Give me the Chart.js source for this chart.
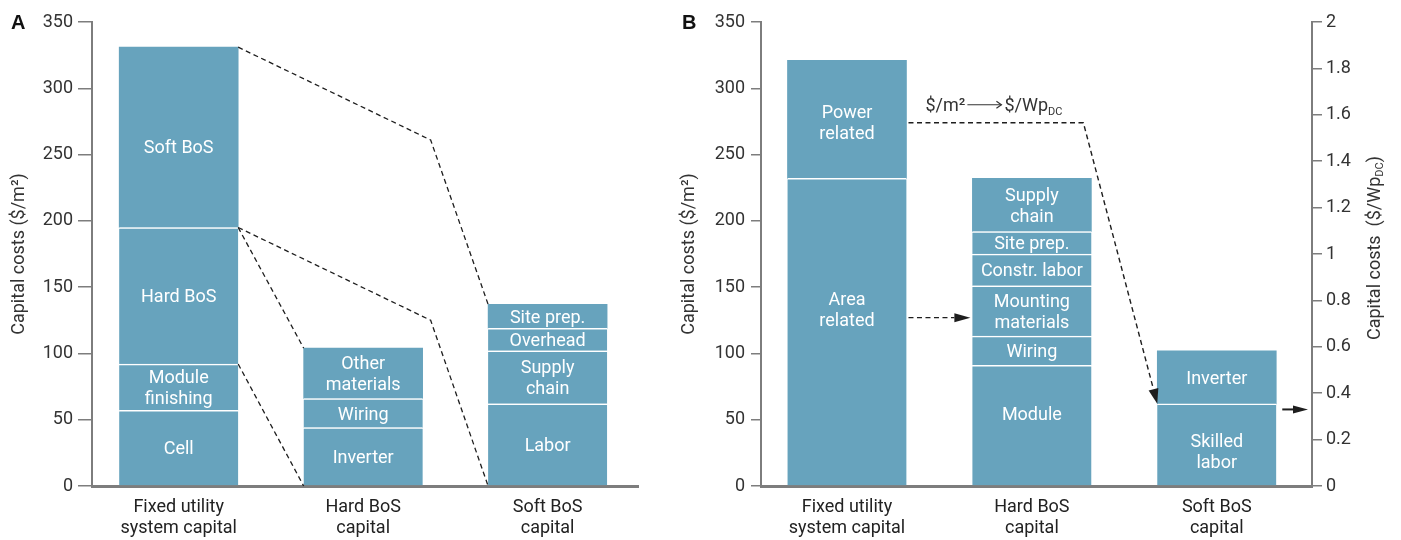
<!DOCTYPE html>
<html>
<head>
<meta charset="utf-8">
<title>Capital costs of fixed utility PV systems</title>
<script src="https://cdn.jsdelivr.net/npm/chart.js@4.4.1/dist/chart.umd.min.js"></script>
<style>
  html, body { margin: 0; padding: 0; background: #ffffff; }
  #wrap { position: relative; width: 1401px; height: 540px; overflow: hidden; }
  .panel { position: absolute; top: 0; height: 540px; }
  #pa { left: 0; width: 680px; }
  #pb { left: 676px; width: 725px; }
  canvas { display: block; }
</style>
</head>
<body>
<div id="wrap">
  <div class="panel" id="pa"><canvas id="ca" width="680" height="540"></canvas></div>
  <div class="panel" id="pb"><canvas id="cb" width="725" height="540"></canvas></div>
</div>
<script>
// ---- data -------------------------------------------------------------
const categories = [['Fixed utility', 'system capital'], ['Hard BoS', 'capital'], ['Soft BoS', 'capital']];
const areaTicks = [0, 50, 100, 150, 200, 250, 300, 350];          // $/m2
const powerTicks = [0, 0.2, 0.4, 0.6, 0.8, 1, 1.2, 1.4, 1.6, 1.8, 2]; // $/Wp(DC)

// Panel A (segments listed bottom to top)
const fixedSegmentsA = ['Cell', 'Module\nfinishing', 'Hard BoS', 'Soft BoS'];
const fixedValuesA   = [57, 35, 103, 136];
const hardSegmentsA  = ['Inverter', 'Wiring', 'Other\nmaterials'];
const hardValuesA    = [44, 22, 38];
const softSegmentsA  = ['Labor', 'Supply\nchain', 'Overhead', 'Site prep.'];
const softValuesA    = [62, 40, 17, 18];

// Panel B (segments listed bottom to top)
const fixedSegmentsB = ['Area\nrelated', 'Power\nrelated'];
const fixedValuesB   = [232, 89];
const hardSegmentsB  = ['Module', 'Wiring', 'Mounting\nmaterials', 'Constr. labor', 'Site prep.', 'Supply\nchain'];
const hardValuesB    = [91, 22, 38, 24, 17, 40];
const softSegmentsB  = ['Skilled\nlabor', 'Inverter'];
const softValuesB    = [62, 40];

// ---- styling ----------------------------------------------------------
const BAR_COLOR = '#67a3bd';
const FONT = 'Roboto, "Liberation Sans", sans-serif';
const INK = '#333333';
const AXIS = '#7d7d7d';
const LINE = '#1e1e1e';
const TEXT_SIZE = 18;

// one dataset per stacked segment; bar index becomes the x value
function stackDatasets(bars) {
  const sets = [];
  bars.forEach((bar, i) => {
    bar.values.forEach((v, k) => {
      const isTop = k === bar.values.length - 1;
      sets.push({
        label: bar.names[k],
        data: [{ x: i, y: v }],
        stack: 'capital',
        backgroundColor: BAR_COLOR,
        borderColor: '#ffffff',
        borderWidth: isTop ? 0 : { top: 1.5, left: 0, right: 0, bottom: 0 },
        borderSkipped: 'start',
        barThickness: 119,
        yAxisID: 'y'
      });
    });
  });
  return sets;
}

function categoryAxis(min, max) {
  return {
    type: 'linear', min: min, max: max, bounds: 'data', offset: false,
    afterBuildTicks: s => { s.ticks = categories.map((_, i) => ({ value: i })); },
    afterFit: s => { s.height = 54; },
    ticks: {
      autoSkip: false, maxRotation: 0, minRotation: 0, padding: 11, color: '#222222',
      font: { family: FONT, size: TEXT_SIZE, lineHeight: 21 / TEXT_SIZE },
      callback: v => categories[v]
    },
    grid: { display: false, drawTicks: false, offset: false },
    border: { display: true, color: AXIS, width: 3 }
  };
}

function areaAxis(width, tickLen, pad, titlePad) {
  return {
    type: 'linear', position: 'left', min: 0, max: 350, bounds: 'data', stacked: true,
    afterBuildTicks: s => { s.ticks = areaTicks.map(v => ({ value: v })); },
    afterFit: s => { s.width = width; },
    ticks: { padding: pad, color: INK, font: { family: FONT, size: TEXT_SIZE } },
    grid: { drawOnChartArea: false, drawTicks: true, tickLength: tickLen, color: AXIS, lineWidth: 1.5 },
    border: { display: true, color: AXIS, width: 2 },
    title: {
      display: true, text: 'Capital costs ($/m²)', color: INK,
      font: { family: FONT, size: TEXT_SIZE, lineHeight: 1.2 },
      padding: { top: titlePad, bottom: 0 }
    }
  };
}

// white labels centred in each segment
const segmentLabels = {
  id: 'segmentLabels',
  afterDatasetsDraw(chart, args, opts) {
    const ctx = chart.ctx;
    const shift = (opts && opts.shift) || {};
    ctx.save();
    ctx.fillStyle = '#ffffff';
    ctx.font = TEXT_SIZE + 'px ' + FONT;
    ctx.textAlign = 'center';
    ctx.textBaseline = 'middle';
    chart.data.datasets.forEach((ds, di) => {
      const el = chart.getDatasetMeta(di).data[0];
      if (!el) return;
      const lines = ds.label.split('\n');
      const lh = 21;
      const cy = (el.y + el.base) / 2 + 2 + (shift[ds.label] || 0);
      const y0 = cy - (lines.length - 1) * lh / 2;
      lines.forEach((t, j) => ctx.fillText(t, el.x, y0 + j * lh));
    });
    ctx.restore();
  }
};

function panelLetter(letter, x) {
  return {
    id: 'panelLetter' + letter,
    afterDraw(chart) {
      const ctx = chart.ctx;
      ctx.save();
      ctx.fillStyle = '#111111';
      ctx.font = 'bold 20px "Liberation Sans", Arial, sans-serif';
      ctx.textAlign = 'left';
      ctx.textBaseline = 'alphabetic';
      ctx.fillText(letter, x, 29);
      ctx.restore();
    }
  };
}

// left/right edges of each bar, by bar index
function barFrames(chart) {
  const frames = [];
  chart.data.datasets.forEach((ds, di) => {
    const el = chart.getDatasetMeta(di).data[0];
    const i = ds.data[0].x;
    frames[i] = { left: el.x - el.width / 2, right: el.x + el.width / 2 };
  });
  return frames;
}

function strokePath(ctx, pts, dash) {
  ctx.setLineDash(dash || []);
  ctx.beginPath();
  ctx.moveTo(pts[0].x, pts[0].y);
  for (let i = 1; i < pts.length; i++) ctx.lineTo(pts[i].x, pts[i].y);
  ctx.stroke();
  ctx.setLineDash([]);
}

// draws a path whose last point carries a filled arrowhead
function arrowPath(ctx, pts, dash, len, half) {
  const tip = pts[pts.length - 1];
  const from = pts[pts.length - 2];
  const a = Math.atan2(tip.y - from.y, tip.x - from.x);
  const base = { x: tip.x - len * Math.cos(a), y: tip.y - len * Math.sin(a) };
  strokePath(ctx, pts.slice(0, -1).concat([base]), dash);
  ctx.beginPath();
  ctx.moveTo(tip.x, tip.y);
  ctx.lineTo(base.x + half * Math.sin(a), base.y - half * Math.cos(a));
  ctx.lineTo(base.x - half * Math.sin(a), base.y + half * Math.cos(a));
  ctx.closePath();
  ctx.fill();
}

function cumulative(values) {
  let s = 0;
  return values.map(v => (s += v));
}
function total(values) { return values.reduce((a, b) => a + b, 0); }

// dashed leaders: hard and soft BoS blocks of the first bar fan out to their breakdown bars
const bosConnectors = {
  id: 'bosConnectors',
  afterDatasetsDraw(chart) {
    const { ctx, scales: { y } } = chart;
    const f = barFrames(chart);
    const cum = cumulative(fixedValuesA);
    const hardLo = cum[1], hardHi = cum[2], softLo = cum[2], softHi = cum[3];
    const elbowDrop = 70;          // leaders to the third bar bend past the second bar
    const elbowX = f[1].right + 8;
    const P = (x, v) => ({ x: x, y: y.getPixelForValue(v) });
    ctx.save();
    ctx.strokeStyle = LINE;
    ctx.lineWidth = 1.3;
    const dash = [5, 3.5];
    strokePath(ctx, [P(f[0].right, hardHi), P(f[1].left, total(hardValuesA))], dash);
    strokePath(ctx, [P(f[0].right, hardLo), P(f[1].left, 0)], dash);
    strokePath(ctx, [P(f[0].right, softHi), P(elbowX, softHi - elbowDrop), P(f[2].left, total(softValuesA))], dash);
    strokePath(ctx, [P(f[0].right, softLo), P(elbowX, softLo - elbowDrop), P(f[2].left, 0)], dash);
    ctx.restore();
  }
};

// conversion arrows between area-based and power-based costs
const conversionArrows = {
  id: 'conversionArrows',
  afterDatasetsDraw(chart) {
    const { ctx, scales: { y, y2 }, chartArea } = chart;
    const f = barFrames(chart);
    const powerLevel = 274, areaLevel = 127, perWattLevel = 0.33;
    ctx.save();
    ctx.strokeStyle = LINE;
    ctx.fillStyle = LINE;
    ctx.lineWidth = 1.4;
    const dash = [5, 3.5];

    const yPow = y.getPixelForValue(powerLevel);
    arrowPath(ctx, [
      { x: f[0].right + 2, y: yPow },
      { x: f[1].right - 8, y: yPow },
      { x: f[2].left, y: y.getPixelForValue(softValuesB[0]) }
    ], dash, 15, 5);

    const yArea = y.getPixelForValue(areaLevel);
    arrowPath(ctx, [{ x: f[0].right + 2, y: yArea }, { x: f[1].left - 2, y: yArea }], dash, 16, 4.5);

    ctx.lineWidth = 2;
    const yOut = y2.getPixelForValue(perWattLevel);
    arrowPath(ctx, [{ x: f[2].right + 6, y: yOut }, { x: chartArea.right - 4, y: yOut }], null, 15, 4);

    // unit conversion caption above the upper arrow
    let x = f[0].right + 19;
    const base = yPow - 12;
    ctx.fillStyle = INK;
    ctx.strokeStyle = INK;
    ctx.textAlign = 'left';
    ctx.textBaseline = 'alphabetic';
    ctx.font = TEXT_SIZE + 'px ' + FONT;
    ctx.fillText('$/m²', x, base);
    x += ctx.measureText('$/m²').width + 2;
    const ay = base - 6, alen = 34;
    ctx.lineWidth = 1.2;
    strokePath(ctx, [{ x: x, y: ay }, { x: x + alen, y: ay }]);
    strokePath(ctx, [{ x: x + alen - 5, y: ay - 3.5 }, { x: x + alen, y: ay }, { x: x + alen - 5, y: ay + 3.5 }]);
    x += alen + 3;
    ctx.fillText('$/Wp', x, base);
    x += ctx.measureText('$/Wp').width;
    ctx.font = '11px ' + FONT;
    ctx.fillText('DC', x, base + 4);
    ctx.restore();
  }
};

// rotated title of the $/Wp axis (reads bottom to top, with subscript)
const powerAxisTitle = {
  id: 'powerAxisTitle',
  afterDraw(chart) {
    const ctx = chart.ctx;
    const s = chart.scales.y2;
    const parts = [
      { t: 'Capital costs  ($/Wp', size: TEXT_SIZE, dy: 0 },
      { t: 'DC', size: 11, dy: 5 },
      { t: ')', size: TEXT_SIZE, dy: 0 }
    ];
    ctx.save();
    ctx.fillStyle = INK;
    ctx.textBaseline = 'middle';
    ctx.textAlign = 'left';
    let w = 0;
    parts.forEach(p => { ctx.font = p.size + 'px ' + FONT; p.w = ctx.measureText(p.t).width; w += p.w; });
    ctx.translate(s.right - 26, (s.top + s.bottom) / 2 - 6);
    ctx.rotate(-Math.PI / 2);
    let x = -w / 2;
    parts.forEach(p => { ctx.font = p.size + 'px ' + FONT; ctx.fillText(p.t, x, p.dy); x += p.w; });
    ctx.restore();
  }
};

const common = {
  responsive: false,
  animation: false,
  events: []
};

// ---- panel A ----------------------------------------------------------
new Chart(document.getElementById('ca'), {
  type: 'bar',
  data: {
    datasets: stackDatasets([
      { names: fixedSegmentsA, values: fixedValuesA },
      { names: hardSegmentsA, values: hardValuesA },
      { names: softSegmentsA, values: softValuesA }
    ])
  },
  options: Object.assign({}, common, {
    layout: { padding: { top: 22, right: 42, left: 0, bottom: 0 } },
    plugins: {
      legend: { display: false },
      tooltip: { enabled: false },
      segmentLabels: { shift: { 'Soft BoS': 9 } }
    },
    scales: {
      x: categoryAxis(-0.47, 2.49),
      y: areaAxis(92, 14, 5, 9)
    }
  }),
  plugins: [segmentLabels, bosConnectors, panelLetter('A', 11)]
});

// ---- panel B ----------------------------------------------------------
const powerAxis = {
  type: 'linear', position: 'right', min: 0, max: 2, bounds: 'data',
  afterBuildTicks: s => { s.ticks = powerTicks.map(v => ({ value: v })); },
  afterFit: s => { s.width = 89; },
  ticks: { padding: 4, color: INK, font: { family: FONT, size: TEXT_SIZE }, callback: v => String(v) },
  grid: { drawOnChartArea: false, drawTicks: true, tickLength: 10, color: AXIS, lineWidth: 1.5 },
  border: { display: true, color: AXIS, width: 2 }
};

new Chart(document.getElementById('cb'), {
  type: 'bar',
  data: {
    datasets: stackDatasets([
      { names: fixedSegmentsB, values: fixedValuesB },
      { names: hardSegmentsB, values: hardValuesB },
      { names: softSegmentsB, values: softValuesB }
    ])
  },
  options: Object.assign({}, common, {
    layout: { padding: { top: 22, right: 0, left: 0, bottom: 0 } },
    plugins: {
      legend: { display: false },
      tooltip: { enabled: false },
      segmentLabels: { shift: { 'Area\nrelated': -23, 'Module': -12, 'Power\nrelated': 3, 'Skilled\nlabor': 6 } }
    },
    scales: {
      x: categoryAxis(-0.465, 2.515),
      y: areaAxis(85, 10, 6, 3),
      y2: powerAxis
    }
  }),
  plugins: [segmentLabels, conversionArrows, powerAxisTitle, panelLetter('B', 6)]
});
</script>
</body>
</html>
